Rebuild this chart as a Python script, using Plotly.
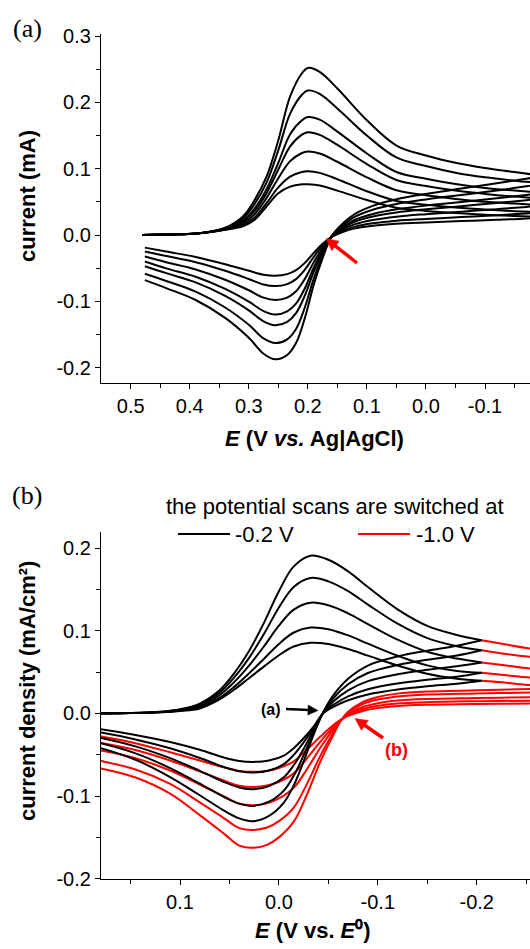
import math
import plotly.graph_objects as go

W, H = 530, 949

# ---------------- Panel (a): current (mA) vs E (V vs. Ag|AgCl) ----------------
A_FWD_E = [0.48, 0.42, 0.38, 0.34, 0.31, 0.29, 0.27, 0.25, 0.23, 0.21, 0.20,
           0.18, 0.15, 0.10, 0.05, 0.00, -0.05, -0.10, -0.15, -0.20]
A_FWD_I = [
    [0, 0.001, 0.003, 0.011, 0.028, 0.053, 0.088, 0.143, 0.209, 0.244, 0.252,
     0.246, 0.221, 0.173, 0.135, 0.120, 0.109, 0.101, 0.095, 0.089],
    [0, 0.001, 0.003, 0.0104, 0.025, 0.047, 0.079, 0.128, 0.183, 0.2115, 0.218,
     0.213, 0.191, 0.150, 0.117, 0.104, 0.094, 0.087, 0.082, 0.078],
    [0, 0.001, 0.003, 0.0097, 0.0217, 0.040, 0.069, 0.109, 0.152, 0.173, 0.178,
     0.174, 0.156, 0.123, 0.095, 0.085, 0.077, 0.071, 0.067, 0.0635],
    [0, 0.001, 0.003, 0.0093, 0.0197, 0.0364, 0.0631, 0.0988, 0.1338, 0.1514, 0.155,
     0.151, 0.136, 0.107, 0.083, 0.074, 0.067, 0.062, 0.058, 0.055],
    [0, 0.001, 0.003, 0.0088, 0.0172, 0.0315, 0.0557, 0.0856, 0.1114, 0.1237, 0.126,
     0.123, 0.1105, 0.087, 0.0675, 0.060, 0.0545, 0.050, 0.0475, 0.045],
    [0, 0.001, 0.003, 0.0083, 0.0147, 0.0263, 0.048, 0.0719, 0.0881, 0.0951, 0.096,
     0.0937, 0.0842, 0.066, 0.0514, 0.0457, 0.0416, 0.0384, 0.036, 0.034],
    [0, 0.001, 0.003, 0.008, 0.013, 0.023, 0.043, 0.063, 0.073, 0.0765, 0.0765,
     0.0747, 0.067, 0.0528, 0.041, 0.0364, 0.0331, 0.0306, 0.0288, 0.0273],
]
A_REV_E = [-0.20, -0.17, -0.12, -0.06, 0.00, 0.05, 0.09, 0.12, 0.14, 0.16, 0.175,
           0.19, 0.205, 0.22, 0.235, 0.255, 0.275, 0.30, 0.34, 0.39, 0.44, 0.476]
A_REV_I = [
    [0.089, 0.085, 0.078, 0.070, 0.062, 0.054, 0.044, 0.032, 0.018, -0.002, -0.035,
     -0.075, -0.125, -0.163, -0.181, -0.1875, -0.179, -0.155, -0.125, -0.098, -0.080, -0.068],
    [0.078, 0.0734, 0.0673, 0.0605, 0.0537, 0.0468, 0.0382, 0.0277, 0.0155, -0.0022, -0.0307,
     -0.0657, -0.1089, -0.1417, -0.1573, -0.163, -0.1559, -0.1354, -0.1093, -0.0854, -0.0693, -0.0585],
    [0.0635, 0.0604, 0.0555, 0.0499, 0.0444, 0.0388, 0.0317, 0.023, 0.0127, -0.0024, -0.026,
     -0.0553, -0.091, -0.1179, -0.131, -0.136, -0.1302, -0.1136, -0.0918, -0.0714, -0.0575, -0.047],
    [0.055, 0.0526, 0.0483, 0.0435, 0.0388, 0.034, 0.0278, 0.0201, 0.011, -0.0025, -0.0231,
     -0.0491, -0.0802, -0.1036, -0.1151, -0.12, -0.1147, -0.1005, -0.0813, -0.0629, -0.0503, -0.040],
    [0.045, 0.0424, 0.039, 0.0352, 0.0315, 0.0277, 0.0227, 0.0164, 0.0088, -0.0027, -0.0194,
     -0.0409, -0.0661, -0.0849, -0.0944, -0.098, -0.0945, -0.0833, -0.0675, -0.0519, -0.041, -0.0325],
    [0.034, 0.0324, 0.0298, 0.027, 0.0243, 0.0216, 0.0177, 0.0127, 0.0066, -0.0029, -0.0157,
     -0.0329, -0.0522, -0.0665, -0.074, -0.077, -0.0746, -0.0664, -0.054, -0.041, -0.0318, -0.025],
    [0.0273, 0.025, 0.023, 0.021, 0.019, 0.017, 0.014, 0.010, 0.005, -0.003, -0.013,
     -0.027, -0.042, -0.053, -0.059, -0.0615, -0.060, -0.054, -0.044, -0.033, -0.025, -0.019],
]

# ---------------- Panel (b): current density (mA/cm2) vs E (V vs. E0) ----------------
B_FWD_E = [0.20, 0.15, 0.12, 0.10, 0.08, 0.06, 0.045, 0.03, 0.015, 0.0, -0.015,
           -0.032, -0.05, -0.07, -0.09, -0.12, -0.15, -0.18, -0.205]
B_FWD_J = [
    [0, 0.0005, 0.002, 0.005, 0.012, 0.028, 0.049, 0.076, 0.110, 0.148, 0.178,
     0.191, 0.186, 0.172, 0.153, 0.126, 0.106, 0.095, 0.0887],
    [0, 0.0005, 0.0019, 0.0045, 0.0105, 0.0252, 0.0439, 0.0676, 0.0964, 0.1282, 0.1532,
     0.164, 0.1599, 0.148, 0.1318, 0.1086, 0.0912, 0.0814, 0.0766],
    [0, 0.0005, 0.0017, 0.0039, 0.0088, 0.0221, 0.0382, 0.0582, 0.0814, 0.1062, 0.1256,
     0.134, 0.1309, 0.1212, 0.1082, 0.0893, 0.0747, 0.0664, 0.0617],
    [0, 0.0005, 0.0016, 0.0034, 0.007, 0.0189, 0.0325, 0.0488, 0.0663, 0.0841, 0.098,
     0.104, 0.1019, 0.0945, 0.0845, 0.0699, 0.0582, 0.0513, 0.0492],
    [0, 0.0005, 0.0015, 0.003, 0.006, 0.017, 0.029, 0.043, 0.057, 0.0705, 0.081,
     0.0855, 0.084, 0.078, 0.070, 0.058, 0.048, 0.042, 0.0395],
]
B_REV_E = [-0.205, -0.18, -0.15, -0.12, -0.09, -0.07, -0.055, -0.045, -0.035, -0.025,
           -0.015, -0.005, 0.01, 0.026, 0.04, 0.055, 0.08, 0.11, 0.145, 0.18, 0.20]
B_REV_J = [
    [0.0887, 0.082, 0.076, 0.069, 0.058, 0.042, 0.022, 0.002, -0.026, -0.058,
     -0.087, -0.108, -0.124, -0.1304, -0.127, -0.118, -0.099, -0.077, -0.056, -0.042, -0.036],
    [0.0766, 0.0702, 0.065, 0.0587, 0.049, 0.0353, 0.0184, 0.0016, -0.0234, -0.0508,
     -0.0754, -0.0934, -0.1068, -0.1119, -0.1091, -0.1014, -0.0849, -0.0661, -0.0483, -0.0361, -0.0309],
    [0.0617, 0.0572, 0.0528, 0.0474, 0.0391, 0.028, 0.0145, 0.0012, -0.0206, -0.0429,
     -0.0627, -0.0773, -0.0879, -0.0917, -0.0895, -0.0832, -0.0694, -0.0541, -0.0398, -0.0296, -0.0252],
    [0.0492, 0.0443, 0.0407, 0.0362, 0.0293, 0.0207, 0.0105, 0.0008, -0.0178, -0.035,
     -0.0501, -0.0613, -0.0691, -0.0715, -0.070, -0.0651, -0.0539, -0.0422, -0.0314, -0.0231, -0.0196],
    [0.0395, 0.036, 0.033, 0.029, 0.023, 0.016, 0.008, 0.0005, -0.016, -0.030,
     -0.042, -0.051, -0.057, -0.0586, -0.0575, -0.0535, -0.044, -0.0345, -0.026, -0.019, -0.016],
]
# red scans (switched at -1.0 V): continuation of the forward scan past -0.2 V
R_EXT_E = [-0.205, -0.23, -0.254, -0.30, -0.40]
R_EXT_J = [
    [0.0887, 0.0834, 0.0787, 0.0745, 0.070],
    [0.0766, 0.072, 0.0686, 0.0643, 0.060],
    [0.0617, 0.058, 0.0545, 0.0518, 0.049],
    [0.0492, 0.0462, 0.0435, 0.0413, 0.039],
    [0.0395, 0.0371, 0.0343, 0.0332, 0.031],
]
R_REV_E = [-0.40, -0.30, -0.254, -0.20, -0.15, -0.12, -0.10, -0.085, -0.07, -0.062,
           -0.055, -0.042, -0.028, -0.015, 0.0, 0.012, 0.026, 0.04, 0.055, 0.08,
           0.11, 0.145, 0.18, 0.20]
R_REV_J = [
    [0.032, 0.031, 0.0295, 0.028, 0.0265, 0.024, 0.020, 0.014, 0.002, -0.010,
     -0.026, -0.058, -0.099, -0.131, -0.150, -0.159, -0.1625, -0.160, -0.146, -0.123,
     -0.097, -0.0775, -0.0666, -0.062],
    [0.0275, 0.0268, 0.0254, 0.0241, 0.0228, 0.0205, 0.0168, 0.0114, 0.0008, -0.0095,
     -0.0232, -0.051, -0.0861, -0.1139, -0.1303, -0.1381, -0.141, -0.1388, -0.1272, -0.1076,
     -0.0853, -0.0678, -0.0576, -0.0533],
    [0.0215, 0.0209, 0.0197, 0.0187, 0.0175, 0.0156, 0.0124, 0.0078, -0.0008, -0.0089,
     -0.0193, -0.0412, -0.0681, -0.090, -0.1029, -0.1088, -0.111, -0.1092, -0.1008, -0.086,
     -0.069, -0.0542, -0.0449, -0.0412],
    [0.017, 0.0166, 0.0155, 0.0148, 0.0137, 0.012, 0.0092, 0.0052, -0.002, -0.0084,
     -0.0164, -0.034, -0.0549, -0.0725, -0.0827, -0.0873, -0.089, -0.0875, -0.0815, -0.0701,
     -0.057, -0.0443, -0.0357, -0.0324],
    [0.0135, 0.013, 0.012, 0.0115, 0.0105, 0.009, 0.0065, 0.003, -0.003, -0.008,
     -0.014, -0.028, -0.044, -0.058, -0.066, -0.0695, -0.0707, -0.0695, -0.0655, -0.057,
     -0.047, -0.036, -0.028, -0.025],
]

# tick labels
A_XTICKS = [0.5, 0.4, 0.3, 0.2, 0.1, 0.0, -0.1]
A_XTEXT = ["0.5", "0.4", "0.3", "0.2", "0.1", "0.0", "-0.1"]
A_XMINOR = [0.45, 0.35, 0.25, 0.15, 0.05, -0.05, -0.15]
A_YTICKS = [0.3, 0.2, 0.1, 0.0, -0.1, -0.2]
A_YTEXT = ["0.3", "0.2", "0.1", "0.0", "-0.1", "-0.2"]
A_YMINOR = [0.25, 0.15, 0.05, -0.05, -0.15]
B_XTICKS = [0.1, 0.0, -0.1, -0.2]
B_XTEXT = ["0.1", "0.0", "-0.1", "-0.2"]
B_XMINOR = [0.15, 0.05, -0.05, -0.15, -0.25]
B_YTICKS = [0.2, 0.1, 0.0, -0.1, -0.2]
B_YTEXT = ["0.2", "0.1", "0.0", "-0.1", "-0.2"]
B_YMINOR = [0.15, 0.05, -0.05, -0.15]

SANS = "Arial, Liberation Sans, sans-serif"
SERIF = "Times New Roman, Liberation Serif, serif"
RED = "#ff0000"


def fx(p):
    return p / W


def fy(p):
    return 1 - p / H


fig = go.Figure()


def line(x, y, color, xa, ya):
    fig.add_trace(go.Scatter(
        x=x, y=y, mode="lines", xaxis=xa, yaxis=ya,
        line=dict(color=color, width=2, shape="spline", smoothing=1.0),
        showlegend=False, hoverinfo="skip"))


for v in A_FWD_I:
    line(A_FWD_E, v, "black", "x", "y")
for v in A_REV_I:
    line(A_REV_E, v, "black", "x", "y")

for v in R_EXT_J:
    line(R_EXT_E, v, RED, "x2", "y2")
for v in R_REV_J:
    line(R_REV_E, v, RED, "x2", "y2")
for v in B_FWD_J:
    line(B_FWD_E, v, "black", "x2", "y2")
for v in B_REV_J:
    line(B_REV_E, v, "black", "x2", "y2")

axis_common = dict(
    showline=True, linecolor="black", linewidth=1.3, mirror=False,
    ticks="outside", ticklen=5, tickwidth=1.3, tickcolor="black",
    showgrid=False, zeroline=False, tickmode="array", automargin=False,
    tickfont=dict(family=SANS, size=20, color="black"),
)
minor_common = dict(ticks="outside", ticklen=4, tickwidth=1.3, tickcolor="black")

fig.update_layout(
    template="none",
    width=W, height=H, margin=dict(l=0, r=0, t=0, b=0, pad=0, autoexpand=False),
    paper_bgcolor="white", plot_bgcolor="white", showlegend=False,
    xaxis=dict(domain=[fx(101), 1], anchor="y", range=[0.5503, -0.1762],
               tickvals=A_XTICKS, ticktext=A_XTEXT,
               minor=dict(tickvals=A_XMINOR, **minor_common), **axis_common),
    yaxis=dict(domain=[fy(383), fy(34)], anchor="x", range=[-0.2232, 0.3032],
               tickvals=A_YTICKS, ticktext=A_YTEXT,
               minor=dict(tickvals=A_YMINOR, **minor_common), **axis_common),
    xaxis2=dict(domain=[fx(101), 1], anchor="y2", range=[0.1799, -0.2539],
                tickvals=B_XTICKS, ticktext=B_XTEXT,
                minor=dict(tickvals=B_XMINOR, **minor_common), **axis_common),
    yaxis2=dict(domain=[fy(878.7), fy(531.7)], anchor="x2", range=[-0.2, 0.22],
                tickvals=B_YTICKS, ticktext=B_YTEXT,
                minor=dict(tickvals=B_YMINOR, **minor_common), **axis_common),
)


def text(px_, py_, s, size, family=SANS, color="black", angle=0, xanchor="center",
         weight="normal"):
    fig.add_annotation(x=fx(px_), y=fy(py_), xref="paper", yref="paper", text=s,
                       showarrow=False, textangle=angle, xanchor=xanchor,
                       yanchor="middle",
                       font=dict(family=family, size=size, color=color, weight=weight))


def arrow(tail, tip, color, width, hl=11.0, hw=5.5):
    dx, dy = tip[0] - tail[0], tip[1] - tail[1]
    L = math.hypot(dx, dy)
    ux, uy = dx / L, dy / L
    nx, ny = -uy, ux
    bx, by = tip[0] - hl * ux, tip[1] - hl * uy
    fig.add_shape(type="line", xref="paper", yref="paper",
                  x0=fx(tail[0]), y0=fy(tail[1]),
                  x1=fx(bx + 1.5 * ux), y1=fy(by + 1.5 * uy),
                  line=dict(color=color, width=width))
    pts = [tip, (bx + hw * nx, by + hw * ny), (bx - hw * nx, by - hw * ny)]
    path = "M {} {} L {} {} L {} {} Z".format(
        *[v for p in pts for v in (fx(p[0]), fy(p[1]))])
    fig.add_shape(type="path", xref="paper", yref="paper", path=path,
                  fillcolor=color, line=dict(color=color, width=0.5))


# panel labels
text(27, 29, "(a)", 26, family=SERIF)
text(27, 496, "(b)", 26, family=SERIF)

# axis titles
text(27, 196, "current (mA)", 22, angle=-90, weight="bold")
text(314, 438, "<i>E</i> (V <i>vs.</i> Ag|AgCl)", 22, weight="bold")
text(27, 691, "current density (mA/cm\u00b2)", 22, angle=-90, weight="bold")
text(313, 930, "<i>E</i> (V vs. <i>E</i>\u2070)", 22, weight="bold")

# legend in panel (b)
text(335, 506, "the potential scans are switched at", 22)
fig.add_shape(type="line", xref="paper", yref="paper",
              x0=fx(178), x1=fx(230), y0=fy(534), y1=fy(534),
              line=dict(color="black", width=2))
fig.add_shape(type="line", xref="paper", yref="paper",
              x0=fx(358), x1=fx(410), y0=fy(534), y1=fy(534),
              line=dict(color=RED, width=2))
text(233, 534, "-0.2 V", 22, xanchor="left")
text(414, 534, "-1.0 V", 22, xanchor="left")

# arrows
arrow((357, 263), (326, 238.5), RED, 3.5, hl=12, hw=6)
arrow((286, 709), (318, 710.5), "black", 2.5, hl=10, hw=5)
text(271, 709, "(a)", 16, weight="bold")
arrow((383, 738), (355, 718.5), RED, 3.5, hl=12, hw=6)
text(397, 750, "(b)", 18, color=RED, weight="bold")

fig.write_html("out.html", config={"displayModeBar": False},
               post_script="document.body.style.margin='0';"
                           "document.body.style.overflow='hidden';")
